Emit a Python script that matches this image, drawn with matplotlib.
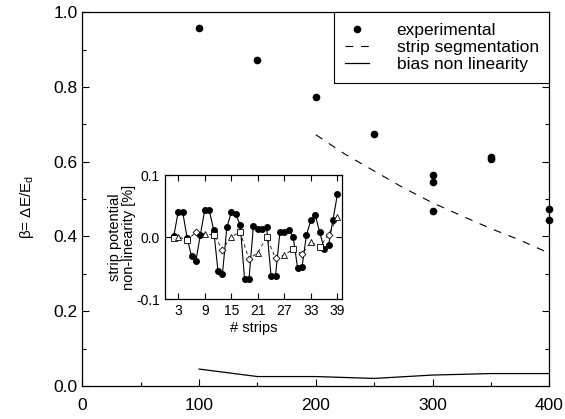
import numpy as np
import matplotlib
matplotlib.use("Agg")
import matplotlib.pyplot as plt
from matplotlib.ticker import MultipleLocator

plt.rcParams['font.family'] = ['Liberation Sans', 'DejaVu Sans']
plt.rcParams['mathtext.fontset'] = 'custom'
plt.rcParams['mathtext.rm'] = 'Liberation Sans'

# main plot: experimental beta vs number of strips
exp_x = [100, 150, 200, 250, 300, 300, 300, 350, 350, 400, 400]
exp_y = [0.957, 0.873, 0.774, 0.674, 0.563, 0.546, 0.469, 0.612, 0.608, 0.472, 0.444]

seg_x = [200, 225, 250, 275, 300, 325, 350, 375, 400]
seg_y = [0.672, 0.62, 0.575, 0.53, 0.49, 0.455, 0.421, 0.39, 0.355]

bias_x = [100, 150, 200, 250, 300, 350, 400]
bias_y = [0.045, 0.025, 0.025, 0.02, 0.029, 0.033, 0.033]

# inset: strip potential non-linearity
strip_n = list(range(2, 40))
strip_nl = [0.002, 0.041, 0.041, -0.001, -0.031, -0.038, 0.004, 0.044, 0.044, 0.012,
            -0.055, -0.059, 0.016, 0.040, 0.037, 0.020, -0.067, -0.068, 0.018, 0.013,
            0.013, 0.016, -0.063, -0.062, 0.008, 0.009, 0.012, 0.0, -0.050, -0.048,
            0.004, 0.027, 0.035, 0.008, -0.019, -0.013, 0.028, 0.069]

open_n = [2, 3, 5, 7, 9, 11, 13, 15, 17, 19, 21, 23, 25, 27, 29, 31, 33, 35, 37, 39]
open_nl = [-0.002, 0.001, -0.005, 0.008, 0.005, 0.004, -0.020, 0.001, 0.008, -0.035,
           -0.025, 0.0, -0.034, -0.029, -0.019, -0.027, -0.008, -0.016, 0.004, 0.032]
open_mk = ['s', '^', 's', 'D', '^', 's', 'D', '^', 's', 'D',
           '^', 's', 'D', '^', 's', 'D', '^', 's', 'D', '^']

fig = plt.figure(figsize=(5.65, 4.19), dpi=100)
ax = fig.add_axes([0.146, 0.079, 0.826, 0.892])

ax.plot(exp_x, exp_y, 'o', color='black', ms=4.5, label='experimental', clip_on=False, zorder=5)
ax.plot(seg_x, seg_y, color='black', lw=0.8, dashes=(7, 7), label='strip segmentation')
ax.plot(bias_x, bias_y, color='black', lw=0.9, label='bias non linearity')

ax.set_xlim(0, 400)
ax.set_ylim(0, 1.0)
ax.xaxis.set_major_locator(MultipleLocator(100))
ax.xaxis.set_minor_locator(MultipleLocator(50))
ax.yaxis.set_major_locator(MultipleLocator(0.2))
ax.yaxis.set_minor_locator(MultipleLocator(0.1))
ax.yaxis.set_major_formatter(plt.FormatStrFormatter('%.1f'))
ax.tick_params(which='both', direction='in', right=True, top=False, labelsize=12.5)
ax.tick_params(which='major', length=5, width=0.8)
ax.tick_params(which='minor', length=3, width=0.8)
ax.tick_params(axis='x', pad=9)
for s in ax.spines.values():
    s.set_linewidth(0.9)
ax.set_ylabel(r'β= ΔE/E$_{\rm d}$', fontsize=11)
ax.yaxis.set_label_coords(-0.10, 0.48)

leg = ax.legend(loc='upper right', borderaxespad=0, fancybox=False, fontsize=12.5,
                edgecolor='black', framealpha=1, handlelength=1.4, handletextpad=1.6,
                labelspacing=0.12, borderpad=0.6, numpoints=1)
leg.get_frame().set_linewidth(0.8)

# inset
ins = fig.add_axes([0.292, 0.286, 0.313, 0.296])
ins.plot(strip_n, strip_nl, '-o', color='black', lw=0.8, ms=4)
ins.plot(open_n, open_nl, color='black', lw=0.6, dashes=(4, 4))
for n, v, m in zip(open_n, open_nl, open_mk):
    ins.plot(n, v, marker=m, mfc='white', mec='black', mew=0.6,
             ms=5 if m == 's' else 4.5 if m == '^' else 3.5)
ins.set_xlim(0, 40)
ins.set_ylim(-0.1, 0.1)
ins.set_xticks([3, 9, 15, 21, 27, 33, 39])
ins.set_yticks([-0.1, 0.0, 0.1])
ins.yaxis.set_major_formatter(plt.FormatStrFormatter('%.1f'))
ins.tick_params(direction='in', top=True, right=True, labelsize=10, length=4, width=0.8)
for s in ins.spines.values():
    s.set_linewidth(0.9)
ins.set_xlabel('# strips', fontsize=10.5, labelpad=2)
ins.set_ylabel('strip potential\nnon-linearity [%]', fontsize=10.5, labelpad=0,
               linespacing=1.0)

fig.savefig('out.png', dpi=100)
